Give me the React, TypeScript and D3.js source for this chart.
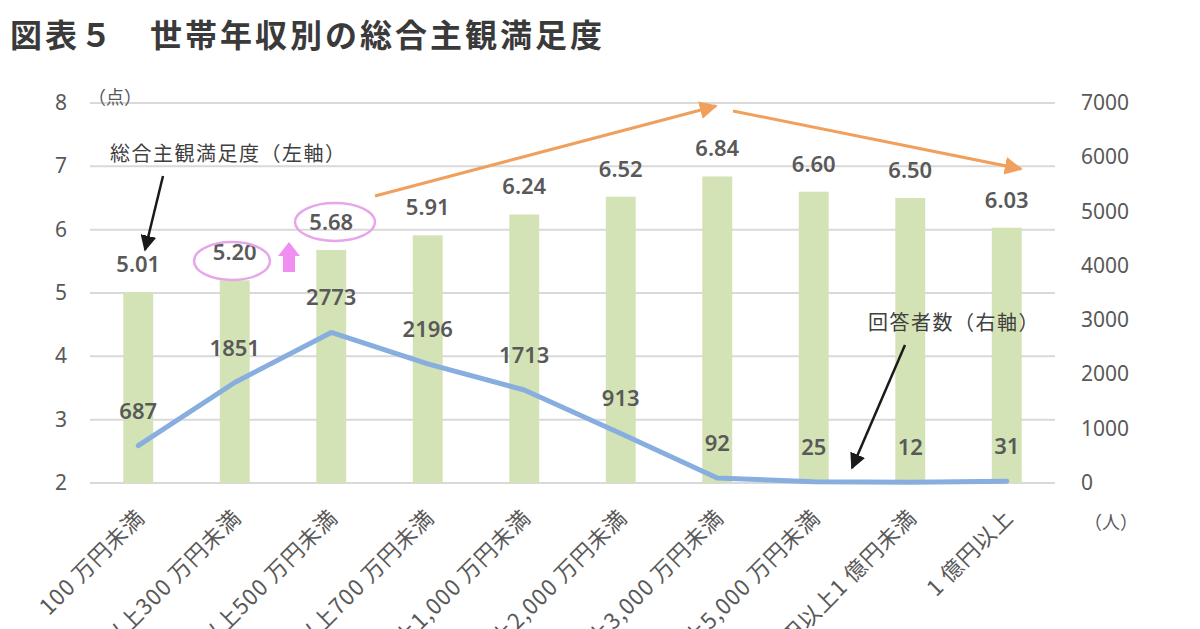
import React from "react";
import * as d3 from "d3";

const categories = [
  "100 万円未満",
  "100 万円以上300 万円未満",
  "300 万円以上500 万円未満",
  "500 万円以上700 万円未満",
  "700 万円以上1,000 万円未満",
  "1,000 万円以上2,000 万円未満",
  "2,000 万円以上3,000 万円未満",
  "3,000 万円以上5,000 万円未満",
  "5,000 万円以上1 億円未満",
  "1 億円以上",
];
const satisfaction = [5.01, 5.2, 5.68, 5.91, 6.24, 6.52, 6.84, 6.6, 6.5, 6.03];
const respondents = [687, 1851, 2773, 2196, 1713, 913, 92, 25, 12, 31];
const leftTicks = [2, 3, 4, 5, 6, 7, 8];
const rightTicks = [0, 1000, 2000, 3000, 4000, 5000, 6000, 7000];

const W = 1200;
const H = 629;
const FONT = "'Noto Sans CJK JP', 'Noto Sans', sans-serif";
const NUMFONT = "'Noto Sans', 'Open Sans', sans-serif";

export default function App() {
  const x = d3.scaleBand<string>().domain(categories).range([90, 1055]).paddingInner(0.69).paddingOuter(0.345);
  const yL = d3.scaleLinear().domain([2, 8]).range([483, 103]);
  const yR = d3.scaleLinear().domain([0, 7000]).range([483, 103]);
  const cx = (c: string) => (x(c) as number) + x.bandwidth() / 2;
  const line = d3
    .line<number>()
    .x((_, i) => cx(categories[i]))
    .y((d) => yR(d));

  const arrowHead = (id: string, color: string, size = 10) => (
    <marker id={id} viewBox="0 0 10 10" refX="9" refY="5" markerWidth={size} markerHeight={size} markerUnits="userSpaceOnUse" orient="auto">
      <path d="M0,0 L10,5 L0,10 z" fill={color} />
    </marker>
  );

  return (
    <div style={{ position: "absolute", left: 0, top: 0 }}>
      <svg width={W} height={H} style={{ display: "block", background: "#fff" }}>
        <defs>
          {arrowHead("blk", "#1a1a1a", 16)}
          {arrowHead("org", "#f0a05c", 18)}
        </defs>
        <text x={10} y={47} fontFamily={FONT} fontWeight={700} fontSize={32} letterSpacing={3} fill="#3a3a3a">
          図表５　世帯年収別の総合主観満足度
        </text>

        {/* gridlines */}
        {leftTicks.map((t) => (
          <line key={t} x1={90} x2={1055} y1={yL(t)} y2={yL(t)} stroke="#d9d9d9" strokeWidth={2} />
        ))}
        {/* left ticks */}
        {leftTicks.map((t) => (
          <text key={t} x={67} y={yL(t) + 7} textAnchor="end" fontFamily={NUMFONT} fontSize={21} fill="#595959">
            {t}
          </text>
        ))}
        {/* right ticks */}
        {rightTicks.map((t) => (
          <text key={t} x={1081} y={yR(t) + 7} textAnchor="start" fontFamily={NUMFONT} fontSize={21} fill="#595959">
            {t}
          </text>
        ))}
        <text x={88} y={104} fontFamily={FONT} fontSize={18} fill="#595959">（点）</text>
        <text x={1084} y={529} fontFamily={FONT} fontSize={18} fill="#595959">（人）</text>

        {/* bars */}
        {categories.map((c, i) => (
          <rect key={c} x={x(c)} y={yL(satisfaction[i])} width={x.bandwidth()} height={yL(2) - yL(satisfaction[i])} fill="#d4e3b5" />
        ))}

        {/* line */}
        <path d={line(respondents) || ""} fill="none" stroke="#88aedf" strokeWidth={5} strokeLinejoin="round" strokeLinecap="round" />

        {/* satisfaction labels */}
        {categories.map((c, i) => (
          <text key={c} x={cx(c)} y={yL(satisfaction[i]) - 20} textAnchor="middle" fontFamily={NUMFONT} fontWeight={600} fontSize={22} fill="#595959">
            {satisfaction[i].toFixed(2)}
          </text>
        ))}
        {/* respondent labels */}
        {categories.map((c, i) => (
          <text key={c} x={cx(c)} y={yR(respondents[i]) - 27} textAnchor="middle" fontFamily={NUMFONT} fontWeight={600} fontSize={22} fill="#595959">
            {respondents[i]}
          </text>
        ))}

        {/* x labels */}
        {categories.map((c) => (
          <text
            key={c}
            transform={`translate(${cx(c) + 8},${519}) rotate(-45)`}
            textAnchor="end"
            fontFamily={FONT}
            fontSize={22}
            letterSpacing={1}
            fill="#595959"
          >
            {c}
          </text>
        ))}

        {/* annotations */}
        <text x={110} y={161} fontFamily={FONT} fontSize={20} letterSpacing={1.5} fill="#404040">総合主観満足度（左軸）</text>
        <line x1={163} y1={176} x2={145} y2={250} stroke="#1a1a1a" strokeWidth={2.5} markerEnd="url(#blk)" />

        <text x={868} y={330} fontFamily={FONT} fontSize={20} letterSpacing={1.5} fill="#404040">回答者数（右軸）</text>
        <line x1={905} y1={345} x2={852} y2={468} stroke="#1a1a1a" strokeWidth={2.5} markerEnd="url(#blk)" />

        <ellipse cx={232} cy={261} rx={38} ry={19} fill="none" stroke="#e7a6ea" strokeWidth={2.5} />
        <ellipse cx={335} cy={222} rx={40} ry={19} fill="none" stroke="#e7a6ea" strokeWidth={2.5} />
        <path d="M283,272 L283,256 L278,256 L289,242 L300,256 L295,256 L295,272 Z" fill="#f08ef2" />

        <line x1={375} y1={196} x2={716} y2={106} stroke="#f0a05c" strokeWidth={3} markerEnd="url(#org)" />
        <line x1={733} y1={111} x2={1021} y2={169} stroke="#f0a05c" strokeWidth={3} markerEnd="url(#org)" />
      </svg>
    </div>
  );
}
